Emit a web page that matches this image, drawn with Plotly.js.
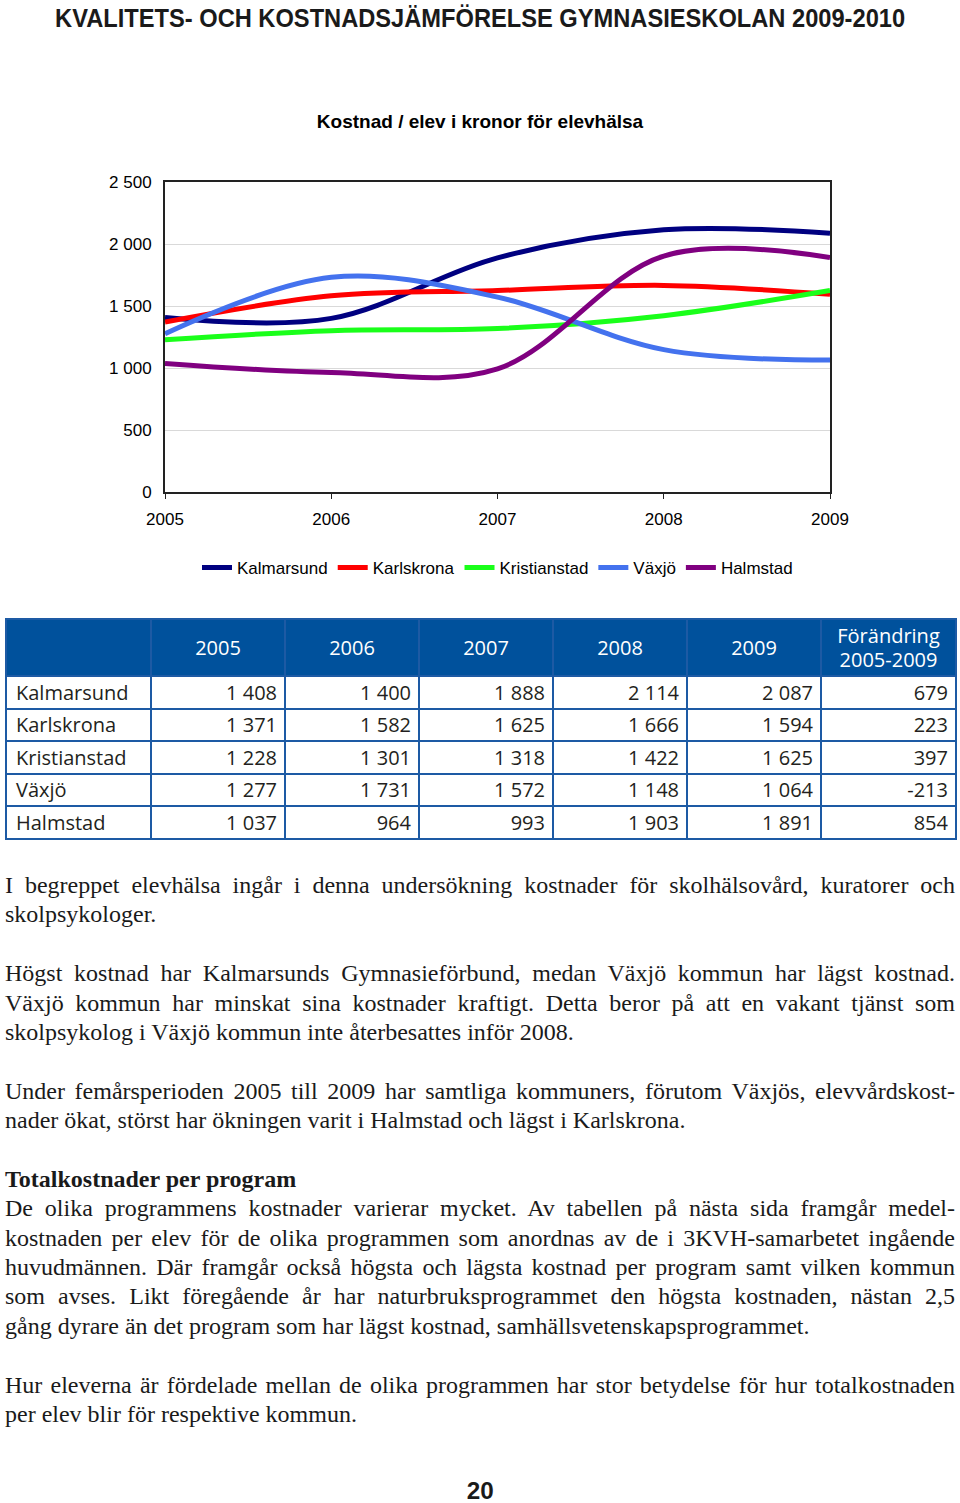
<!DOCTYPE html>
<html>
<head>
<meta charset="utf-8">
<script src="https://cdn.plot.ly/plotly-3.0.1.min.js"></script>
<style>
  body { margin: 0; background: #fff; }
  #page { position: relative; width: 960px; height: 1503px; overflow: hidden; }
  #head { position: absolute; top: 3px; left: 0; width: 960px; text-align: center; line-height: 28px;
          font: bold 26px "Liberation Sans", Arial, sans-serif; color: #1a1a1a; }
  #head span, #pnum span { display: inline-block; transform-origin: center center; }
  #chart { position: absolute; top: 90px; left: 0; width: 960px; height: 510px; }
  #tbl { position: absolute; top: 618px; left: 5px; border-collapse: collapse; table-layout: fixed;
         font: 20px "Open Sans", "Noto Sans", sans-serif; color: #231f20; }
  #tbl td, #tbl th { border: 2px solid #1d5aa4; padding: 0 7px; white-space: nowrap; }
  #tbl th { background: #00519c; color: #fff; font-weight: normal; height: 55px; line-height: 24px; text-align: center; }
  #tbl td { height: 30.5px; text-align: right; }
  #tbl td.name { text-align: left; padding-left: 9px; }
  #text { position: absolute; top: 871px; left: 5px; width: 950px;
          font: 24px "Liberation Serif", "Times New Roman", serif; line-height: 29.4px; color: #1a1a1a; }
  #text .ln { white-space: nowrap; height: 29.4px; }
  #text .ln span { display: inline-block; transform-origin: left center; }
  #text .gap { height: 29.4px; }
  #pnum { position: absolute; top: 1477px; left: 0; width: 960px; text-align: center; line-height: 22px;
          font: bold 24px "Liberation Sans", Arial, sans-serif; color: #1a1a1a; }
</style>
</head>
<body>
<div id="page">
  <div id="head"><span>KVALITETS- OCH KOSTNADSJÄMFÖRELSE GYMNASIESKOLAN 2009-2010</span></div>
  <div id="chart"></div>
  <table id="tbl"></table>
  <div id="text"></div>
  <div id="pnum"><span>20</span></div>
</div>
<script>
// data
const years = [2005, 2006, 2007, 2008, 2009];
const names = ['Kalmarsund', 'Karlskrona', 'Kristianstad', 'Växjö', 'Halmstad'];
const kalmarsund = [1408, 1400, 1888, 2114, 2087];
const karlskrona = [1371, 1582, 1625, 1666, 1594];
const kristianstad = [1228, 1301, 1318, 1422, 1625];
const vaxjo = [1277, 1731, 1572, 1148, 1064];
const halmstad = [1037, 964, 993, 1903, 1891];
const change = [679, 223, 397, -213, 854];
const series = [kalmarsund, karlskrona, kristianstad, vaxjo, halmstad];
const colors = ['#000080', '#ff0000', '#1aff1a', '#4472ee', '#800080'];

const fmt = n => String(n).replace(/\B(?=(\d{3})+(?!\d))/g, ' ');

// chart
Plotly.newPlot('chart', series.map((ys, i) => ({
    x: years, y: ys, name: names[i], type: 'scatter', mode: 'lines',
    line: { color: colors[i], width: 5, shape: 'spline', smoothing: 1 }
})), {
    width: 960, height: 510,
    margin: { l: 165, r: 130, t: 92, b: 108 },
    separators: ', ',
    font: { family: '"Liberation Sans", Arial, sans-serif', size: 17, color: '#000' },
    title: { text: '<b>Kostnad / elev i kronor för elevhälsa</b>', font: { size: 19 },
             xref: 'container', x: 0.5, y: 1 - 31 / 510, yanchor: 'middle' },
    xaxis: { range: [2005, 2009], tickvals: years, showgrid: false, zeroline: false,
             showline: true, mirror: true, linecolor: '#222', linewidth: 2,
             ticks: 'outside', ticklen: 5, tickcolor: '#222', ticklabelstandoff: 6 },
    yaxis: { range: [0, 2500], dtick: 500, tickformat: ',d', gridcolor: '#d9d9d9', zeroline: false,
             showline: true, mirror: true, linecolor: '#222', linewidth: 2, ticklabelstandoff: 8 },
    showlegend: true,
    legend: { orientation: 'h', x: 0.5, xanchor: 'center', y: -0.245, yanchor: 'middle',
              font: { size: 17 }, itemwidth: 30 },
    plot_bgcolor: '#fff', paper_bgcolor: 'rgba(0,0,0,0)'
}, { staticPlot: true });

// table
const tbl = document.getElementById('tbl');
const widths = [145, 134, 134, 134, 134, 134, 135];
let html = '<colgroup>' + widths.map(w => `<col style="width:${w}px">`).join('') + '</colgroup>';
html += '<tr><th></th>' + years.map(y => `<th>${y}</th>`).join('') + '<th>Förändring<br>2005-2009</th></tr>';
names.forEach((n, i) => {
    html += `<tr><td class="name">${n}</td>` + series[i].map(v => `<td>${fmt(v)}</td>`).join('') +
            `<td>${fmt(change[i])}</td></tr>`;
});
tbl.innerHTML = html;

// body text, one entry per printed line; '' = blank line, '*' = justified, '#' = bold
const lines = [
    '*I begreppet elevhälsa ingår i denna undersökning kostnader för skolhälsovård, kuratorer och',
    'skolpsykologer.',
    '',
    '*Högst kostnad har Kalmarsunds Gymnasieförbund, medan Växjö kommun har lägst kostnad.',
    '*Växjö kommun har minskat sina kostnader kraftigt. Detta beror på att en vakant tjänst som',
    'skolpsykolog i Växjö kommun inte återbesattes inför 2008.',
    '',
    '*Under femårsperioden 2005 till 2009 har samtliga kommuners, förutom Växjös, elevvårdskost-',
    'nader ökat, störst har ökningen varit i Halmstad och lägst i Karlskrona.',
    '',
    '#Totalkostnader per program',
    '*De olika programmens kostnader varierar mycket. Av tabellen på nästa sida framgår medel-',
    '*kostnaden per elev för de olika programmen som anordnas av de i 3KVH-samarbetet ingående',
    '*huvudmännen. Där framgår också högsta och lägsta kostnad per program samt vilken kommun',
    '*som avses. Likt föregående år har naturbruksprogrammet den högsta kostnaden, nästan 2,5',
    'gång dyrare än det program som har lägst kostnad, samhällsvetenskapsprogrammet.',
    '',
    '*Hur eleverna är fördelade mellan de olika programmen har stor betydelse för hur totalkostnaden',
    'per elev blir för respektive kommun.'
];
const text = document.getElementById('text');
lines.forEach(l => {
    const d = document.createElement('div');
    if (l === '') { d.className = 'gap'; text.appendChild(d); return; }
    d.className = 'ln';
    const s = document.createElement('span');
    if (l[0] === '*') { s.dataset.just = '1'; l = l.slice(1); }
    if (l[0] === '#') { s.style.fontWeight = 'bold'; l = l.slice(1); }
    s.textContent = l;
    d.appendChild(s);
    text.appendChild(d);
});
function squeeze(s, target) {
    const w = s.getBoundingClientRect().width;
    s.style.transform = `scaleX(${target / w})`;
}
function fitLines() {
    text.querySelectorAll('span').forEach(s => {
        const w = s.getBoundingClientRect().width;
        if (w > 950) s.style.transform = `scaleX(${950 / w})`;
        else if (s.dataset.just) {
            const gaps = (s.textContent.match(/ /g) || []).length;
            s.style.wordSpacing = ((950 - w) / gaps) + 'px';
        }
    });
    squeeze(document.querySelector('#head span'), 850);
    squeeze(document.querySelector('#pnum span'), 27);
}
document.fonts.ready.then(fitLines);
</script>
</body>
</html>
